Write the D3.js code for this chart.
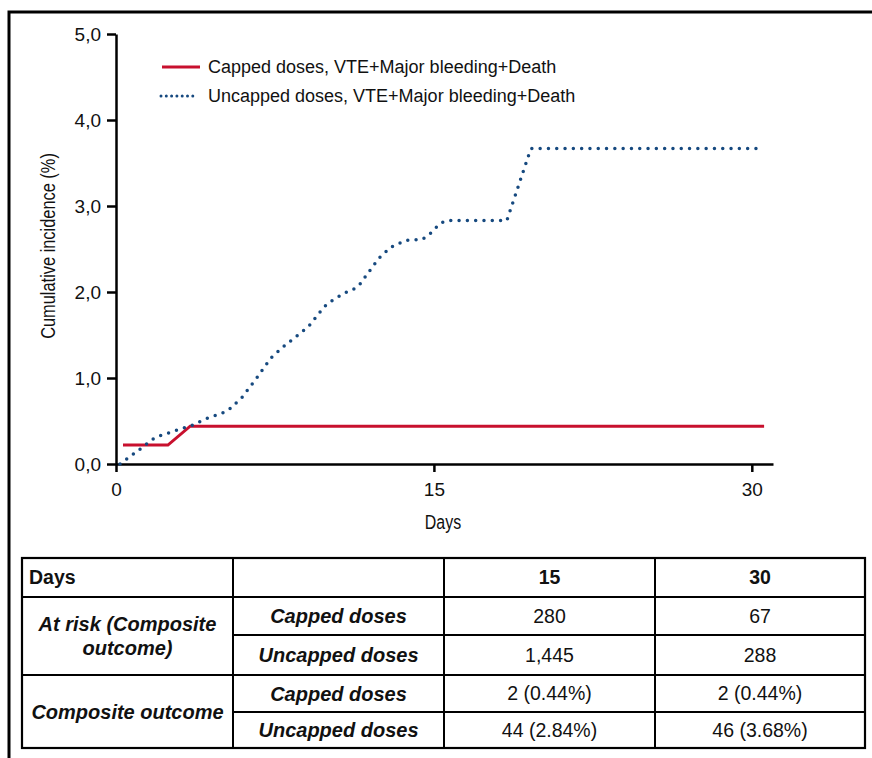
<!DOCTYPE html>
<html lang="en">
<head><meta charset="utf-8"/>
<style>
body { margin:0; background:#fff; }
svg text { font-family: "Liberation Sans", Arial, sans-serif; fill:#111; }
.axis path, .axis line { stroke:#000; stroke-width:2.5px; }
.title { font-size:21px; }
.line { fill:none; }
</style>
</head>
<body>
<svg id="chart" width="872" height="758"></svg>

<script src="https://cdn.jsdelivr.net/npm/d3@7"></script>
<script>

// tick values
var xTicks = [0, 15, 30];
var yTicks = [0, 1, 2, 3, 4, 5];

// capped doses curve (days, %)
var cappedDay = [0.33, 2.45, 3.5, 30.58];
var cappedPct = [0.22, 0.22, 0.44, 0.44];

// uncapped doses curve (days, %)
var uncappedDay = [0.19, 1.12, 1.75, 2.09, 2.84, 3.58, 4.28, 5.01, 5.36, 5.93, 6.64, 7.30,
	7.88, 8.49, 9.09, 9.83, 10.13, 10.79, 11.15, 11.48, 12.39, 12.96, 13.67, 14.43,
	14.75, 15.30, 15.66, 18.44, 19.47, 19.60, 30.5];
var uncappedPct = [0.00, 0.17, 0.29, 0.33, 0.39, 0.45, 0.53, 0.59, 0.64, 0.77, 1.00, 1.23,
	1.36, 1.48, 1.60, 1.83, 1.89, 1.99, 2.02, 2.08, 2.39, 2.52, 2.60, 2.61,
	2.66, 2.80, 2.83, 2.83, 3.59, 3.67, 3.67];

var legendLabels = ["Capped doses, VTE+Major bleeding+Death",
	"Uncapped doses, VTE+Major bleeding+Death"];

// table contents
var tableHeader = ["Days", "", "15", "30"];
var groupLabels = [["At risk (Composite", "outcome)"], ["Composite outcome"]];
var armLabels = ["Capped doses", "Uncapped doses"];
var atRisk = [["280", "67"], ["1,445", "288"]];
var outcome = [["2 (0.44%)", "2 (0.44%)"], ["44 (2.84%)", "46 (3.68%)"]];

var red = "#c8102e", blue = "#16497f";

var svg = d3.select("#chart");

// outer frame (left + top edge)
svg.append("path")
	.attr("d", "M9,758V12H872")
	.attr("fill", "none").attr("stroke", "#000").attr("stroke-width", 3);

var x = d3.scaleLinear().domain([0, 31]).range([116, 773]),
    y = d3.scaleLinear().domain([0, 5]).range([464, 34]);

var loc = d3.formatLocale({decimal: ",", thousands: ".", grouping: [3], currency: ["", ""]});
var fmt = loc.format(".1f");

svg.append("g")
	.attr("class", "axis")
	.attr("transform", "translate(0,464)")
	.call(d3.axisBottom(x).tickValues(xTicks).tickSize(8).tickSizeOuter(0).tickPadding(11));

svg.append("g")
	.attr("class", "axis")
	.attr("transform", "translate(116,0)")
	.call(d3.axisLeft(y).tickValues(yTicks).tickFormat(fmt).tickSize(9).tickSizeOuter(0).tickPadding(6));

svg.selectAll(".axis text")
	.attr("font-family", "Liberation Sans, Arial, sans-serif")
	.attr("font-size", 19).attr("fill", "#111");

// axis titles are set in a condensed face: squeeze horizontally
svg.append("text").attr("class", "title")
	.attr("transform", "translate(443,529) scale(0.76,1)")
	.attr("text-anchor", "middle")
	.text("Days");

svg.append("text").attr("class", "title")
	.attr("transform", "translate(55,246) rotate(-90) scale(0.78,1)")
	.attr("text-anchor", "middle")
	.text("Cumulative incidence (%)");

var line = d3.line()
	.x(d => x(d[0]))
	.y(d => y(d[1]));

svg.append("path").attr("class", "line")
	.attr("d", line(d3.zip(cappedDay, cappedPct)))
	.attr("stroke", red).attr("stroke-width", 3);

svg.append("path").attr("class", "line")
	.attr("d", line(d3.zip(uncappedDay, uncappedPct)))
	.attr("stroke", blue).attr("stroke-width", 3.5)
	.attr("stroke-linecap", "round")
	.attr("stroke-dasharray", "0,8.3");

// legend
var lg = svg.append("g");
lg.append("line").attr("x1", 162).attr("x2", 200).attr("y1", 67).attr("y2", 67)
	.attr("stroke", red).attr("stroke-width", 3);
lg.append("line").attr("x1", 161).attr("x2", 198).attr("y1", 96).attr("y2", 96)
	.attr("stroke", blue).attr("stroke-width", 3).attr("stroke-linecap", "round")
	.attr("stroke-dasharray", "0,5.3");
lg.selectAll("text").data(legendLabels).enter().append("text")
	.attr("x", 208).attr("y", (d, i) => 67 + i * 29)
	.attr("dy", "0.35em").attr("font-size", 18)
	.text(d => d);

// table
var colX = [22, 233, 444, 655, 865],
    rowY = [558, 597, 635, 675, 712, 748];
var tb = svg.append("g");
var hline = (x1, x2, yy) => tb.append("line").attr("x1", x1).attr("x2", x2)
	.attr("y1", yy).attr("y2", yy).attr("stroke", "#000").attr("stroke-width", 2);
var vline = xx => tb.append("line").attr("x1", xx).attr("x2", xx)
	.attr("y1", rowY[0]).attr("y2", rowY[5]).attr("stroke", "#000").attr("stroke-width", 2);

tb.append("rect").attr("x", colX[0]).attr("y", rowY[0])
	.attr("width", colX[4] - colX[0]).attr("height", rowY[5] - rowY[0])
	.attr("fill", "none").attr("stroke", "#000").attr("stroke-width", 2.2);
[1, 2, 3].forEach(i => vline(colX[i]));
hline(colX[0], colX[4], rowY[1]);
hline(colX[1], colX[4], rowY[2]);
hline(colX[0], colX[4], rowY[3]);
hline(colX[1], colX[4], rowY[4]);

var mid = (a, b) => (a + b) / 2;

tb.selectAll(".hd").data(tableHeader).enter().append("text")
	.attr("x", (d, i) => i == 0 ? colX[0] + 7 : mid(colX[i], colX[i + 1]))
	.attr("y", mid(rowY[0], rowY[1])).attr("dy", "0.35em")
	.attr("text-anchor", (d, i) => i == 0 ? "start" : "middle")
	.attr("font-size", 19.5).attr("font-weight", "bold")
	.text(d => d);

groupLabels.forEach(function(g, gi){
	var cy = mid(rowY[1 + gi * 2], rowY[3 + gi * 2]);
	g.forEach(function(t, li){
		tb.append("text")
			.attr("x", mid(colX[0], colX[1]))
			.attr("y", cy + (li - (g.length - 1) / 2) * 24).attr("dy", "0.35em")
			.attr("text-anchor", "middle")
			.attr("font-size", 20).attr("font-weight", "bold").attr("font-style", "italic")
			.text(t);
	});
	var vals = gi == 0 ? atRisk : outcome;
	armLabels.forEach(function(a, ai){
		var ry = mid(rowY[1 + gi * 2 + ai], rowY[2 + gi * 2 + ai]);
		tb.append("text")
			.attr("x", mid(colX[1], colX[2])).attr("y", ry).attr("dy", "0.35em")
			.attr("text-anchor", "middle")
			.attr("font-size", 20).attr("font-weight", "bold").attr("font-style", "italic")
			.text(a);
		vals[ai].forEach(function(v, vi){
			tb.append("text")
				.attr("x", mid(colX[2 + vi], colX[3 + vi])).attr("y", ry).attr("dy", "0.35em")
				.attr("text-anchor", "middle")
				.attr("font-size", 19.5)
				.text(v);
		});
	});
});

</script>
</body>
</html>
